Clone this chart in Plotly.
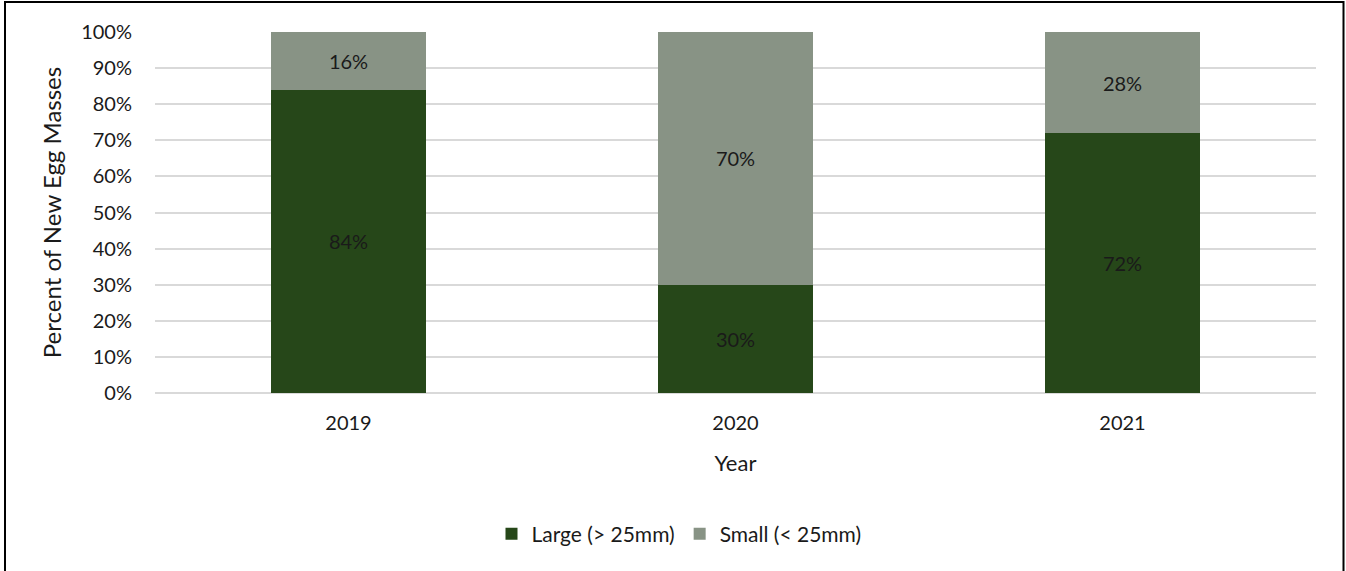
import plotly.graph_objects as go

# Share of new egg masses by size class, per survey year
years = ["2019", "2020", "2021"]
large_pct = [84, 30, 72]
small_pct = [16, 70, 28]
y_ticks = list(range(0, 101, 10))
y_tick_labels = [f"{v}%" for v in y_ticks]

FONT = "Lato, Carlito, Calibri, sans-serif"
DARK_GREEN = "#264719"
SAGE = "#889385"
TEXT = "#1a1a1a"

fig = go.Figure()
fig.add_trace(go.Bar(
    name="Large (> 25mm)", x=years, y=large_pct,
    marker=dict(color=DARK_GREEN, line=dict(width=0)),
    text=[f"{v}%" for v in large_pct], textposition="inside",
    insidetextanchor="middle", textangle=0,
    textfont=dict(family=FONT, size=20, color=TEXT),
))
fig.add_trace(go.Bar(
    name="Small (< 25mm)", x=years, y=small_pct,
    marker=dict(color=SAGE, line=dict(width=0)),
    text=[f"{v}%" for v in small_pct], textposition="inside",
    insidetextanchor="middle", textangle=0,
    textfont=dict(family=FONT, size=20, color=TEXT),
))

L, R, T, B = 155, 30, 32, 178
W, H = 1346, 571
pw, ph = W - L - R, H - T - B

fig.update_layout(
    width=W, height=H,
    barmode="stack", bargap=0.6,
    margin=dict(l=L, r=R, t=T, b=B),
    paper_bgcolor="white", plot_bgcolor="white",
    font=dict(family=FONT, size=20, color=TEXT),
    uniformtext=dict(mode=False),
    legend=dict(
        orientation="h", x=(679 - L) / pw, xanchor="center",
        y=-(534 - (T + ph)) / ph, yanchor="middle",
        font=dict(family=FONT, size=21, color=TEXT),
        itemwidth=30, traceorder="normal",
    ),
    xaxis=dict(
        title=dict(text="Year", font=dict(family=FONT, size=22), standoff=22),
        showgrid=False, showline=False, ticks="",
        tickfont=dict(family=FONT, size=20),
        ticklabelstandoff=16,
    ),
    yaxis=dict(
        title=dict(text="Percent of New Egg Masses", font=dict(family=FONT, size=24), standoff=12),
        range=[0, 100], tickvals=y_ticks, ticktext=y_tick_labels,
        tickfont=dict(family=FONT, size=20),
        showgrid=True, gridcolor="#d9d9d9", gridwidth=1.5,
        zeroline=True, zerolinecolor="#d9d9d9", zerolinewidth=1.5,
        showline=False, ticks="", ticklabelstandoff=22,
    ),
    showlegend=True,
)

# Outer chart border
fig.add_shape(
    type="rect", xref="paper", yref="paper", layer="above",
    x0=(5 - L) / pw, x1=(1343.5 - L) / pw,
    y0=-(H + 5 - (T + ph)) / ph, y1=1 + (T - 2) / ph,
    line=dict(color="black", width=2), fillcolor="rgba(0,0,0,0)",
)

fig.write_html("out.html")
